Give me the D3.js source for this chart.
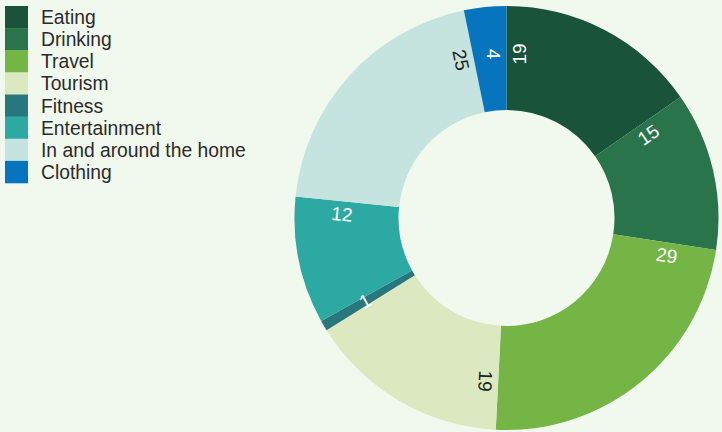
<!DOCTYPE html>
<html>
<head>
<meta charset="utf-8">
<script src="https://cdn.jsdelivr.net/npm/d3@7"></script>
<style>
  html, body { margin: 0; padding: 0; background: #f1f8ee; }
  svg { display: block; }
  text { font-family: "Liberation Sans", Arial, Helvetica, sans-serif; }
</style>
</head>
<body>
<svg id="chart" width="722" height="432"></svg>
<script>
// Spending categories and their shares
const categories = ["Eating", "Drinking", "Travel", "Tourism", "Fitness", "Entertainment", "In and around the home", "Clothing"];
const values = [19, 15, 29, 19, 1, 12, 25, 4];
const colors = ["#18533a", "#29744a", "#74b546", "#dbe8c0", "#29777e", "#2ca9a3", "#c6e4df", "#0775bd"];
const labelColors = ["#ffffff", "#ffffff", "#ffffff", "#222222", "#ffffff", "#ffffff", "#222222", "#ffffff"];

const W = 722, H = 432;
const cx = 506.5, cy = 218, outerR = 212, innerR = 108;

const svg = d3.select("#chart");

const data = categories.map((c, i) => ({ name: c, value: values[i], color: colors[i], label: labelColors[i] }));

const pie = d3.pie().value(d => d.value).sort(null);
const arc = d3.arc().innerRadius(innerR).outerRadius(outerR);
const arcs = pie(data);

const g = svg.append("g").attr("transform", `translate(${cx},${cy})`);

g.selectAll("path.slice")
  .data(arcs)
  .join("path")
  .attr("class", "slice")
  .attr("d", arc)
  .attr("fill", d => d.data.color);

// Value labels run along a slice edge: on the leading edge reading outward
// for the right-hand and lower slices, on the trailing edge reading inward
// for the rest. Thin slices keep the label centred on the slice.
const labelR = 164, edgeGap = 13;
g.selectAll("text.val")
  .data(arcs)
  .join("text")
  .attr("class", "val")
  .attr("text-anchor", "middle")
  .attr("dominant-baseline", "central")
  .attr("font-size", 19)
  .attr("fill", d => d.data.label)
  .attr("transform", d => {
    const useStart = d.startAngle < (200 * Math.PI / 180);
    const a = useStart ? d.startAngle : d.endAngle;
    const sign = useStart ? 1 : -1;
    const gap = Math.min(edgeGap, (d.endAngle - d.startAngle) * labelR / 2);
    const x = labelR * Math.sin(a) + sign * gap * Math.cos(a);
    const y = -labelR * Math.cos(a) + sign * gap * Math.sin(a);
    const deg = a * 180 / Math.PI + (useStart ? -90 : 90);
    return `translate(${x},${y}) rotate(${deg})`;
  })
  .text(d => d.data.value);

// Legend
const legendY = d3.scaleBand().domain(categories).range([6, 183]).padding(0);
const legend = svg.append("g");
legend.selectAll("rect")
  .data(data)
  .join("rect")
  .attr("x", 5)
  .attr("y", d => legendY(d.name))
  .attr("width", 23)
  .attr("height", legendY.bandwidth() + 0.3)
  .attr("fill", d => d.color);

legend.selectAll("text")
  .data(data)
  .join("text")
  .attr("x", 41)
  .attr("y", d => legendY(d.name) + legendY.bandwidth() / 2 + 7)
  .attr("font-size", 19.3)
  .attr("fill", "#2b2b2b")
  .text(d => d.name);
</script>
</body>
</html>
